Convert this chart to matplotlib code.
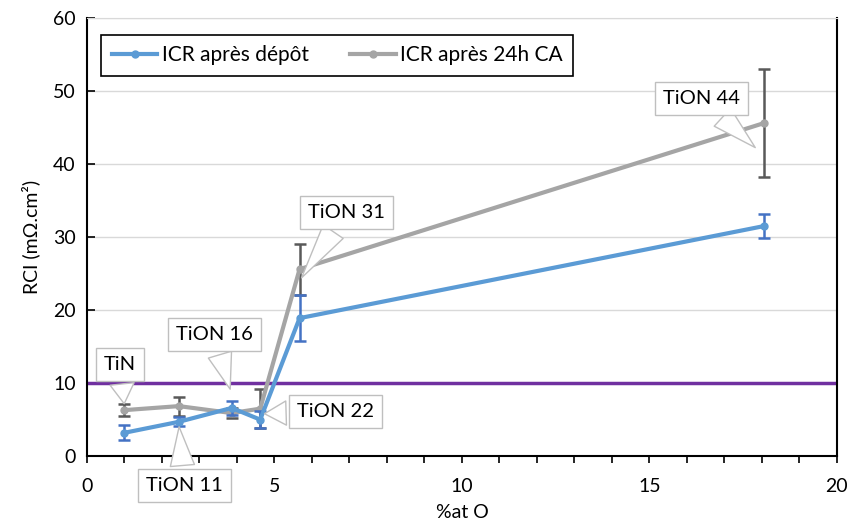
import matplotlib.pyplot as plt
from matplotlib.lines import Line2D
import numpy as np

plt.rcParams['font.family'] = ['Lato', 'DejaVu Sans']

# %at O for each sample
at_O = [1.0, 2.45, 3.86, 4.62, 5.67, 18.05]
names = ['TiN', 'TiON 11', 'TiON 16', 'TiON 22', 'TiON 31', 'TiON 44']

# ICR after deposition
icr_dep = [3.2, 4.7, 6.6, 5.0, 18.9, 31.5]
err_dep = [1.0, 0.6, 1.0, 1.2, 3.2, 1.6]

# ICR after 24h CA
icr_ca = [6.3, 6.85, 5.9, 6.5, 25.6, 45.6]
err_ca = [0.8, 1.3, 0.7, 2.7, 3.5, 7.4]

threshold = 10

# callout label positions and pointer tips (data coords)
label_pos = [(0.88, 12.6), (2.59, -4.0), (3.39, 16.6), (6.64, 6.1), (6.92, 33.4), (16.4, 49.0)]
tip_pos = [(1.0, 6.8), (2.45, 4.4), (3.84, 8.8), (4.66, 5.8), (5.68, 24.1), (17.88, 42.0)]

blue, blue_err = '#5B9BD5', '#4472C4'
gray, gray_err = '#A5A5A5', '#595959'

fig = plt.figure(figsize=(8.53, 5.31), dpi=100)
ax = fig.add_axes([0.102, 0.141, 0.879, 0.825])

ax.axhline(threshold, color='#7030A0', lw=2.5, zorder=2)

ax.errorbar(at_O, icr_dep, yerr=err_dep, color=blue, lw=3, marker='o', ms=5,
            ecolor=blue_err, elinewidth=1.8, capsize=4, capthick=1.8, zorder=4)
ax.errorbar(at_O, icr_ca, yerr=err_ca, color=gray, lw=3, marker='o', ms=5,
            ecolor=gray_err, elinewidth=1.8, capsize=4, capthick=1.8, zorder=3)

for txt, pos, tip in zip(names, label_pos, tip_pos):
    ax.annotate(txt, xy=tip, xytext=pos, ha='center', va='center', fontsize=14.5,
                annotation_clip=False, zorder=6,
                bbox=dict(boxstyle='square,pad=0.4', fc='white', ec='#BFBFBF', lw=1),
                arrowprops=dict(arrowstyle='wedge,tail_width=1.2,shrink_factor=0.5',
                                fc='white', ec='#BFBFBF', lw=1))

ax.set_xlim(0, 20)
ax.set_ylim(0, 60)
ax.set_xticks(np.arange(0, 21, 5))
ax.set_xticks(np.arange(0, 21, 1), minor=True)
ax.set_yticks(np.arange(0, 61, 10))
ax.tick_params(axis='x', which='both', direction='out', length=5, width=1.2, labelsize=14, pad=11)
ax.tick_params(axis='y', direction='in', length=6, width=1.2, labelsize=14, pad=8)
ax.grid(axis='y', color='#D9D9D9', lw=1)
ax.set_axisbelow(True)

for s in ['left', 'bottom', 'right']:
    ax.spines[s].set_color('black')
    ax.spines[s].set_linewidth(1.5)
ax.spines['top'].set_color('#D9D9D9')

ax.set_xlabel('%at O', fontsize=14, labelpad=6)
ax.set_ylabel('RCI (mΩ.cm²)', fontsize=14, labelpad=9)

handles = [Line2D([], [], color=blue, lw=3, marker='o', ms=5),
           Line2D([], [], color=gray, lw=3, marker='o', ms=5)]
leg = ax.legend(handles, ['ICR après dépôt', 'ICR après 24h CA'], loc='upper left', ncol=2,
                fontsize=15, frameon=True, fancybox=False, edgecolor='black', framealpha=1,
                bbox_to_anchor=(0.005, 0.985), handlelength=2.2, handletextpad=0.2,
                columnspacing=2.0, borderpad=0.5)
leg.get_frame().set_linewidth(1.2)

fig.savefig('out.png', dpi=100)
